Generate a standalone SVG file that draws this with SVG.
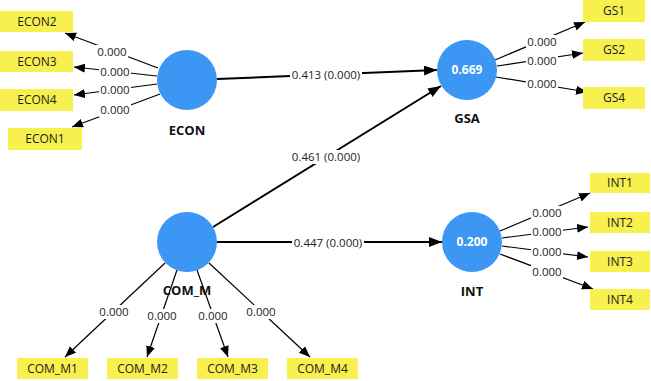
<svg xmlns="http://www.w3.org/2000/svg" width="651" height="381" viewBox="0 0 651 381">
<style>
.lv{fill:#3b96f4}
.ind{fill:#f7f04e}
.t{font-family:"Open Sans","Noto Sans","Liberation Sans",sans-serif;font-size:12px;fill:#222;text-anchor:middle}
.b{font-family:"Open Sans","Noto Sans","Liberation Sans",sans-serif;font-size:13px;font-weight:bold;fill:#111;text-anchor:middle}
.w{font-family:"Open Sans","Noto Sans","Liberation Sans",sans-serif;font-size:12px;font-weight:bold;fill:#fff;text-anchor:middle}
.lbl{font-family:"Open Sans","Noto Sans","Liberation Sans",sans-serif;font-size:11.5px;fill:#222;text-anchor:middle}
.bg{fill:#fff}
.s{stroke:#000;stroke-width:2;fill:none;marker-end:url(#ah)}
.l{stroke:#000;stroke-width:1.2;fill:none;marker-end:url(#al)}
</style>
<defs>
<marker id="ah" markerUnits="userSpaceOnUse" markerWidth="14" markerHeight="12" refX="13" refY="5" orient="auto"><path d="M0,0 L13,5 L0,10 Z" fill="#000"/></marker>
<marker id="al" markerUnits="userSpaceOnUse" markerWidth="12" markerHeight="10" refX="11" refY="4.5" orient="auto"><path d="M0,0 L11,4.5 L0,9 Z" fill="#000"/></marker>
</defs>
<rect width="651" height="381" fill="#fff"/>
<g id="connectors">
<line class="s" x1="217" y1="79" x2="437" y2="70"/>
<line class="s" x1="213" y1="227" x2="441" y2="86"/>
<line class="s" x1="217" y1="242" x2="442" y2="242"/>
<line class="l" x1="158" y1="68" x2="65" y2="33"/>
<line class="l" x1="157" y1="76" x2="74" y2="67"/>
<line class="l" x1="157" y1="84" x2="74" y2="95"/>
<line class="l" x1="160" y1="94" x2="72" y2="127"/>
<line class="l" x1="495" y1="60" x2="585" y2="22"/>
<line class="l" x1="497" y1="66" x2="583" y2="53"/>
<line class="l" x1="496" y1="77" x2="587" y2="92"/>
<line class="l" x1="500" y1="231" x2="590" y2="193"/>
<line class="l" x1="502" y1="238" x2="588" y2="227"/>
<line class="l" x1="502" y1="246" x2="588" y2="257"/>
<line class="l" x1="500" y1="254" x2="593" y2="289"/>
<line class="l" x1="165" y1="263" x2="65" y2="357"/>
<line class="l" x1="177" y1="270" x2="147" y2="357"/>
<line class="l" x1="197" y1="270" x2="228" y2="357"/>
<line class="l" x1="209" y1="263" x2="310" y2="357"/>
<rect class="bg" x="290" y="68" width="72" height="14"/><text class="lbl" x="326" y="75" dy=".35em">0.413 (0.000)</text>
<rect class="bg" x="290" y="150" width="72" height="14"/><text class="lbl" x="326" y="157" dy=".35em">0.461 (0.000)</text>
<rect class="bg" x="292" y="236" width="72" height="14"/><text class="lbl" x="328" y="243" dy=".35em">0.447 (0.000)</text>
<rect class="bg" x="96" y="45" width="32" height="14"/><text class="lbl" x="112" y="52" dy=".35em">0.000</text>
<rect class="bg" x="99" y="65" width="32" height="14"/><text class="lbl" x="115" y="72" dy=".35em">0.000</text>
<rect class="bg" x="99" y="83" width="32" height="14"/><text class="lbl" x="115" y="90" dy=".35em">0.000</text>
<rect class="bg" x="99" y="103" width="32" height="14"/><text class="lbl" x="115" y="110" dy=".35em">0.000</text>
<rect class="bg" x="526" y="35" width="32" height="14"/><text class="lbl" x="542" y="42" dy=".35em">0.000</text>
<rect class="bg" x="526" y="54" width="32" height="14"/><text class="lbl" x="542" y="61" dy=".35em">0.000</text>
<rect class="bg" x="526" y="77" width="32" height="14"/><text class="lbl" x="542" y="84" dy=".35em">0.000</text>
<rect class="bg" x="531" y="206" width="32" height="14"/><text class="lbl" x="547" y="213" dy=".35em">0.000</text>
<rect class="bg" x="531" y="225" width="32" height="14"/><text class="lbl" x="547" y="232" dy=".35em">0.000</text>
<rect class="bg" x="531" y="245" width="32" height="14"/><text class="lbl" x="547" y="252" dy=".35em">0.000</text>
<rect class="bg" x="531" y="265" width="32" height="14"/><text class="lbl" x="547" y="272" dy=".35em">0.000</text>
<rect class="bg" x="98" y="305" width="32" height="14"/><text class="lbl" x="114" y="312" dy=".35em">0.000</text>
<rect class="bg" x="146" y="309" width="32" height="14"/><text class="lbl" x="162" y="316" dy=".35em">0.000</text>
<rect class="bg" x="197" y="309" width="32" height="14"/><text class="lbl" x="213" y="316" dy=".35em">0.000</text>
<rect class="bg" x="245" y="305" width="32" height="14"/><text class="lbl" x="261" y="312" dy=".35em">0.000</text>
</g>
<g id="ECON"><circle class="lv" cx="187" cy="80" r="30"/><text class="b" x="187" y="130" dy=".35em">ECON</text></g>
<g id="GSA"><circle class="lv" cx="467" cy="70" r="30"/><text class="w" x="467" y="70" dy=".35em">0.669</text><text class="b" x="467" y="118" dy=".35em">GSA</text></g>
<g id="COM_M"><circle class="lv" cx="187" cy="242" r="30"/><text class="b" x="187" y="290" dy=".35em">COM_M</text></g>
<g id="INT"><circle class="lv" cx="472" cy="242" r="30"/><text class="w" x="472" y="242" dy=".35em">0.200</text><text class="b" x="472" y="291" dy=".35em">INT</text></g>
<g id="ECON2"><rect class="ind" x="0" y="11" width="73" height="21"/><text class="t" x="37" y="21.5" dy=".35em">ECON2</text></g>
<g id="ECON3"><rect class="ind" x="0" y="51" width="73" height="21"/><text class="t" x="37" y="61.5" dy=".35em">ECON3</text></g>
<g id="ECON4"><rect class="ind" x="0" y="89" width="73" height="22"/><text class="t" x="37" y="100" dy=".35em">ECON4</text></g>
<g id="ECON1"><rect class="ind" x="8" y="128" width="74" height="22"/><text class="t" x="45" y="139" dy=".35em">ECON1</text></g>
<g id="GS1"><rect class="ind" x="583" y="0" width="62" height="22"/><text class="t" x="614" y="11" dy=".35em">GS1</text></g>
<g id="GS2"><rect class="ind" x="583" y="39" width="62" height="22"/><text class="t" x="614" y="50" dy=".35em">GS2</text></g>
<g id="GS4"><rect class="ind" x="583" y="87" width="62" height="22"/><text class="t" x="614" y="98" dy=".35em">GS4</text></g>
<g id="INT1"><rect class="ind" x="590" y="173" width="60" height="20"/><text class="t" x="620" y="183" dy=".35em">INT1</text></g>
<g id="INT2"><rect class="ind" x="590" y="212" width="60" height="21"/><text class="t" x="620" y="222.5" dy=".35em">INT2</text></g>
<g id="INT3"><rect class="ind" x="590" y="251" width="60" height="21"/><text class="t" x="620" y="261.5" dy=".35em">INT3</text></g>
<g id="INT4"><rect class="ind" x="590" y="289" width="60" height="21"/><text class="t" x="620" y="299.5" dy=".35em">INT4</text></g>
<g id="COM_M1"><rect class="ind" x="17" y="358" width="71" height="21"/><text class="t" x="52.5" y="368.5" dy=".35em">COM_M1</text></g>
<g id="COM_M2"><rect class="ind" x="107" y="358" width="71" height="21"/><text class="t" x="142.5" y="368.5" dy=".35em">COM_M2</text></g>
<g id="COM_M3"><rect class="ind" x="197" y="358" width="71" height="21"/><text class="t" x="232.5" y="368.5" dy=".35em">COM_M3</text></g>
<g id="COM_M4"><rect class="ind" x="287" y="358" width="71" height="21"/><text class="t" x="322.5" y="368.5" dy=".35em">COM_M4</text></g>
</svg>
